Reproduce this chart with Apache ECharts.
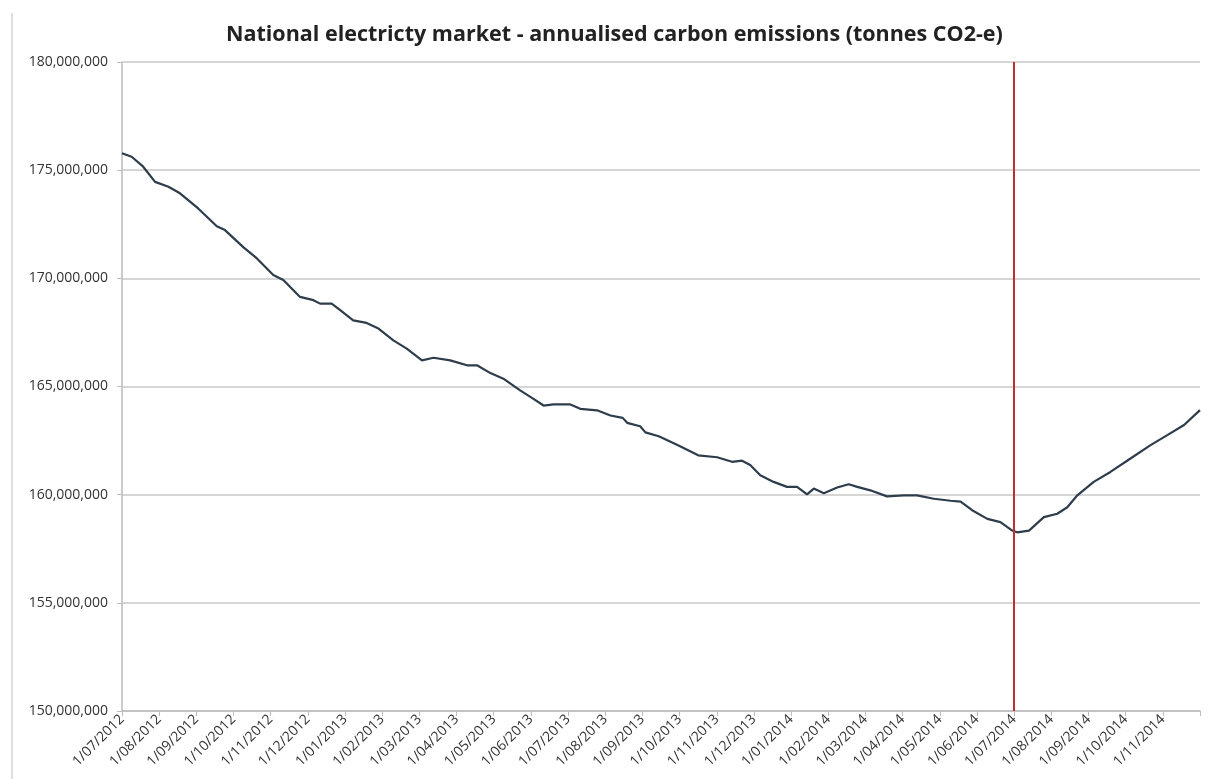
<!DOCTYPE html>
<html>
<head>
<meta charset="utf-8">
<script src="https://cdn.jsdelivr.net/npm/echarts@6/dist/echarts.min.js"></script>
<style>
  html, body { margin: 0; padding: 0; background: #ffffff; }
  #chart { width: 1217px; height: 779px; }
</style>
</head>
<body>
<div id="chart"></div>
<script>
// Month tick labels (index = months since 1/07/2012)
var tickLabels = [
  '1/07/2012','1/08/2012','1/09/2012','1/10/2012','1/11/2012','1/12/2012',
  '1/01/2013','1/02/2013','1/03/2013','1/04/2013','1/05/2013','1/06/2013',
  '1/07/2013','1/08/2013','1/09/2013','1/10/2013','1/11/2013','1/12/2013',
  '1/01/2014','1/02/2014','1/03/2014','1/04/2014','1/05/2014','1/06/2014',
  '1/07/2014','1/08/2014','1/09/2014','1/10/2014','1/11/2014'
];

// Position of each reading, in months since 1/07/2012
var monthPos = [
  0, 0.26, 0.57, 0.89, 1.25, 1.56, 2.05, 2.55, 2.77, 3.27,
  3.63, 4.07, 4.34, 4.79, 5.15, 5.33, 5.64, 5.87, 6.22, 6.58,
  6.90, 7.30, 7.66, 8.07, 8.38, 8.83, 9.28, 9.55, 9.91, 10.26,
  10.71, 11.07, 11.34, 11.61, 12.06, 12.33, 12.78, 13.14, 13.47, 13.59,
  13.94, 14.08, 14.44, 14.93, 15.50, 16.01, 16.41, 16.68, 16.90, 17.17,
  17.53, 17.89, 18.16, 18.43, 18.61, 18.88, 19.24, 19.55, 19.78, 20.13,
  20.58, 21.03, 21.39, 21.84, 22.29, 22.56, 22.87, 23.28, 23.63, 23.95,
  24.08, 24.40, 24.80, 25.16, 25.43, 25.70, 26.14, 26.59, 27.13, 27.67,
  28.12, 28.57, 29.00
];

// Annualised emissions, millions of tonnes CO2-e
var emissionsMt = [
  175.78, 175.62, 175.16, 174.46, 174.23, 173.93, 173.23, 172.41, 172.23, 171.43,
  170.92, 170.15, 169.92, 169.14, 168.99, 168.83, 168.83, 168.53, 168.06, 167.94,
  167.68, 167.13, 166.75, 166.21, 166.33, 166.21, 165.98, 165.98, 165.62, 165.36,
  164.82, 164.43, 164.12, 164.17, 164.17, 163.97, 163.90, 163.66, 163.55, 163.32,
  163.16, 162.88, 162.70, 162.31, 161.82, 161.73, 161.52, 161.57, 161.37, 160.90,
  160.59, 160.36, 160.36, 160.01, 160.28, 160.07, 160.33, 160.48, 160.36, 160.20,
  159.92, 159.97, 159.97, 159.81, 159.72, 159.68, 159.28, 158.88, 158.73, 158.34,
  158.26, 158.34, 158.96, 159.12, 159.42, 159.97, 160.59, 161.05, 161.67, 162.29,
  162.75, 163.22, 163.91
];

// Reference marker: 1/07/2014 (month index 24)
var markerMonth = [24];

var seriesData = monthPos.map(function (m, i) {
  return [m, Math.round(emissionsMt[i] * 1e6)];
});

var chart = echarts.init(document.getElementById('chart'), null, { renderer: 'canvas' });

chart.setOption({
  backgroundColor: '#ffffff',
  animation: false,
  title: {
    text: 'National electricty market - annualised carbon emissions (tonnes CO2-e)',
    left: 221,
    top: 19,
    textStyle: {
      fontFamily: 'Open Sans',
      fontWeight: 'bold',
      fontSize: 21.5,
      color: '#222222'
    }
  },
  graphic: [{
    type: 'line',
    shape: { x1: 12, y1: 13, x2: 12, y2: 779 },
    style: { stroke: '#d4d4d4', lineWidth: 1.5 },
    silent: true
  }],
  grid: { left: 122, right: 17, top: 62, bottom: 68, containLabel: false },
  xAxis: {
    type: 'value',
    min: 0,
    max: 29,
    interval: 1,
    splitLine: { show: false },
    axisLine: { show: true, onZero: false, lineStyle: { color: '#bdbdbd', width: 1.5 } },
    axisTick: { show: true, length: 5, lineStyle: { color: '#bdbdbd' } },
    axisLabel: {
      rotate: 45,
      fontFamily: 'Open Sans',
      fontSize: 14,
      color: '#333333',
      margin: 6,
      formatter: function (v) {
        var i = Math.round(v);
        return (i >= 0 && i < tickLabels.length) ? tickLabels[i] : '';
      }
    }
  },
  yAxis: {
    type: 'value',
    min: 150000000,
    max: 180000000,
    interval: 5000000,
    axisLine: { show: true, lineStyle: { color: '#bdbdbd', width: 1.5 } },
    axisTick: { show: true, length: 5, lineStyle: { color: '#bdbdbd' } },
    splitLine: { show: true, lineStyle: { color: '#c8c8c8', width: 1.5 } },
    axisLabel: {
      fontFamily: 'Open Sans',
      fontSize: 14,
      color: '#333333',
      margin: 14,
      formatter: function (v) {
        return v.toLocaleString('en-US');
      }
    }
  },
  series: [{
    type: 'line',
    data: seriesData,
    showSymbol: false,
    symbol: 'none',
    lineStyle: { color: '#2e3d4c', width: 2.2 },
    markLine: {
      silent: true,
      symbol: ['none', 'none'],
      label: { show: false },
      lineStyle: { color: '#c0302a', width: 2, type: 'solid' },
      data: markerMonth.map(function (m) { return { xAxis: m }; })
    },
    z: 3
  }]
});
</script>
</body>
</html>
